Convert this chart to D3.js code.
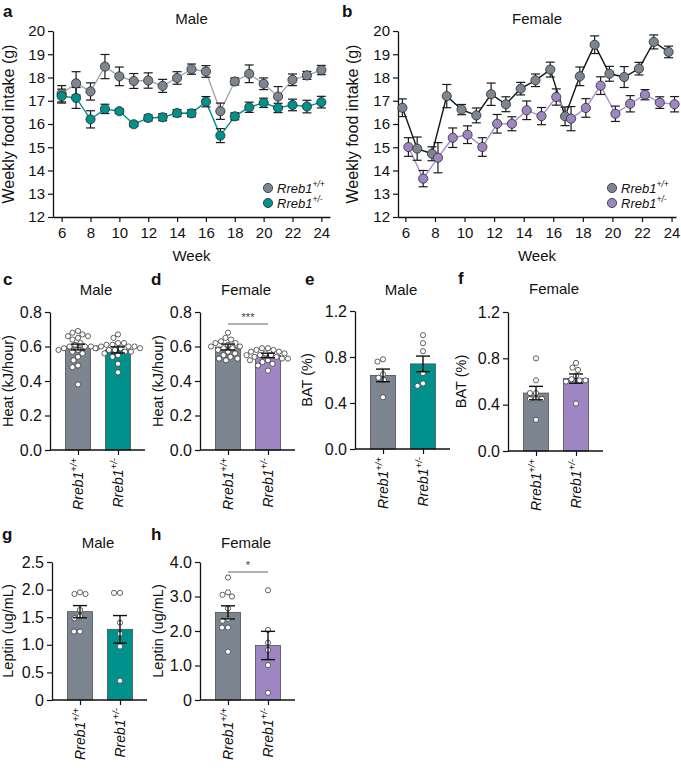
<!DOCTYPE html>
<html><head><meta charset="utf-8">
<script src="https://cdn.jsdelivr.net/npm/d3@7"></script>
<style>
body{margin:0;background:#fff;}
svg{font-family:"Liberation Sans",Arial,Helvetica,sans-serif;}
</style></head><body>
<svg id="chart" width="681" height="768"></svg>
<script>
// ---------- DATA ----------
const weeks = [6,7,8,9,10,11,12,13,14,15,16,17,18,19,20,21,22,23,24];
const weekTicks = [6,8,10,12,14,16,18,20,22,24];
const intakeTicks = [12,13,14,15,16,17,18,19,20];

const maleWT     = [17.30,17.75,17.40,18.47,18.05,17.85,17.87,17.64,17.98,18.36,18.26,16.55,17.83,18.16,17.73,17.18,17.90,18.09,18.32];
const maleWTsem  = [0.35,0.50,0.37,0.52,0.40,0.32,0.33,0.28,0.27,0.22,0.25,0.35,0.15,0.38,0.25,0.43,0.25,0.17,0.20];
const maleHet    = [17.20,17.12,16.20,16.65,16.55,15.99,16.26,16.29,16.47,16.46,16.96,15.50,16.33,16.72,16.91,16.69,16.82,16.75,16.94];
const maleHetSem = [0.30,0.45,0.37,0.20,0.10,0.10,0.13,0.15,0.15,0.15,0.22,0.30,0.15,0.22,0.20,0.20,0.25,0.27,0.25];

const femaleWT     = [16.70,14.94,14.72,17.20,16.62,16.37,17.28,16.85,17.52,17.88,18.34,16.33,18.05,19.41,18.16,18.02,18.38,19.53,19.10];
const femaleWTsem  = [0.38,0.50,0.30,0.50,0.22,0.32,0.48,0.32,0.27,0.27,0.32,0.40,0.40,0.38,0.32,0.45,0.27,0.30,0.25];
const femaleHet    = [15.01,13.65,14.55,15.41,15.54,15.01,16.01,16.01,16.59,16.34,17.16,16.23,16.69,17.65,16.44,16.87,17.26,16.92,16.85];
const femaleHetSem = [0.40,0.35,0.65,0.42,0.38,0.40,0.40,0.30,0.40,0.37,0.35,0.52,0.40,0.38,0.33,0.35,0.22,0.25,0.33];

const genotypes = ["+/+", "+/-"];

const heatMaleMean = [0.597, 0.580], heatMaleSem = [0.017, 0.018];
const heatMaleWT  = [0.69,0.68,0.67,0.66,0.66,0.65,0.64,0.62,0.61,0.60,0.60,0.60,0.59,0.59,0.58,0.58,0.57,0.56,0.54,0.52,0.49,0.48,0.38];
const heatMaleHet = [0.67,0.65,0.62,0.62,0.61,0.61,0.60,0.60,0.60,0.59,0.59,0.59,0.58,0.58,0.57,0.57,0.56,0.55,0.54,0.50,0.45];
const heatFemaleMean = [0.597, 0.548], heatFemaleSem = [0.017, 0.013];
const heatFemaleWT  = [0.68,0.65,0.64,0.63,0.62,0.62,0.61,0.60,0.60,0.59,0.59,0.58,0.57,0.56,0.55,0.54,0.53,0.53,0.52];
const heatFemaleHet = [0.59,0.59,0.58,0.58,0.57,0.57,0.56,0.56,0.55,0.55,0.55,0.54,0.54,0.53,0.53,0.52,0.52,0.51,0.50,0.49,0.46];
const heatTicks = [0,0.2,0.4,0.6,0.8], heatTickLabels = ["0.0","0.2","0.4","0.6","0.8"];

const batMaleMean = [0.640, 0.740], batMaleSem = [0.055, 0.068];
const batMaleWT  = [0.78,0.76,0.65,0.62,0.60,0.45];
const batMaleHet = [0.99,0.92,0.85,0.66,0.57,0.55];
const batFemaleMean = [0.500, 0.625], batFemaleSem = [0.058, 0.040];
const batFemaleWT  = [0.80,0.61,0.50,0.50,0.45,0.45,0.45,0.27];
const batFemaleHet = [0.76,0.72,0.70,0.65,0.62,0.61,0.61,0.60,0.41];
const batTicks = [0,0.4,0.8,1.2], batTickLabels = ["0.0","0.4","0.8","1.2"];

const leptinMaleMean = [1.60, 1.28], leptinMaleSem = [0.11, 0.25];
const leptinMaleWT  = [1.95,1.92,1.92,1.63,1.52,1.48,1.24,1.24];
const leptinMaleHet = [1.94,1.94,1.40,1.20,0.97,0.35];
const leptinMaleTicks = [0,0.5,1,1.5,2,2.5], leptinMaleTickLabels = ["0","0.5","1.0","1.5","2.0","2.5"];
const leptinFemaleMean = [2.54, 1.58], leptinFemaleSem = [0.19, 0.41];
const leptinFemaleWT  = [3.55,3.12,3.05,3.00,2.65,2.35,2.30,2.10,2.10,1.40];
const leptinFemaleHet = [3.18,2.03,1.66,1.45,1.01,0.21];
const leptinFemaleTicks = [0,1,2,3,4], leptinFemaleTickLabels = ["0","1.0","2.0","3.0","4.0"];

// ---------- STYLE ----------
const cGray = "#7d8591", cTeal = "#00918c", cPurple = "#9d86c2";
const svg = d3.select("#chart");

function styleAxis(g){
  g.selectAll("path.domain").attr("stroke","#111").attr("stroke-width",1.3);
  g.selectAll(".tick line").attr("stroke","#111").attr("stroke-width",1.2);
  g.selectAll(".tick text").attr("fill","#111").attr("font-family","Liberation Sans, Arial, sans-serif");
}
function label(x,y,t,opt={}){
  const el = svg.append("text").attr("x",x).attr("y",y).text(t)
    .attr("font-size",opt.size||15).attr("fill","#111")
    .attr("text-anchor",opt.anchor||"middle");
  if(opt.bold) el.attr("font-weight","bold");
  return el;
}
function yTitle(x,y,t,size){
  svg.append("text").attr("transform",`translate(${x},${y}) rotate(-90)`)
    .attr("text-anchor","middle").attr("font-size",size).attr("fill","#111").text(t);
}
function genoText(sel, sup, mainSize, supSize){
  sel.append("tspan").text("Rreb1");
  sel.append("tspan").attr("font-size",supSize).attr("dy",-mainSize*0.4).text(sup);
}

// ---------- LINE PANELS ----------
function linePanel(o){
  const x = d3.scaleLinear().domain(o.xdom).range([o.x0,o.x1]);
  const y = d3.scaleLinear().domain([12,20]).range([o.y0,o.y1]);
  const gx = svg.append("g").attr("transform",`translate(0,${o.y0})`)
    .call(d3.axisBottom(x).tickValues(weekTicks).tickSize(5).tickPadding(5).tickSizeOuter(0));
  gx.selectAll("text").attr("font-size",15);
  styleAxis(gx);
  const gy = svg.append("g").attr("transform",`translate(${o.x0},0)`)
    .call(d3.axisLeft(y).tickValues(intakeTicks).tickSize(5).tickPadding(3).tickSizeOuter(0));
  gy.selectAll("text").attr("font-size",15);
  styleAxis(gy);

  o.series.forEach(s=>{
    const pts = weeks.map((w,i)=>({x:x(w)+s.dodge, m:s.mean[i], e:s.sem[i]}));
    svg.append("path").datum(pts)
      .attr("d", d3.line().x(d=>d.x).y(d=>y(d.m)))
      .attr("fill","none").attr("stroke",s.line).attr("stroke-width",1.4);
    s.pts = pts;
  });
  o.series.forEach(s=>{
    const g = svg.append("g").attr("stroke","#1a1a1a").attr("stroke-width",1.2);
    s.pts.forEach(d=>{
      g.append("line").attr("x1",d.x).attr("x2",d.x).attr("y1",y(d.m-d.e)).attr("y2",y(d.m+d.e));
      g.append("line").attr("x1",d.x-4.5).attr("x2",d.x+4.5).attr("y1",y(d.m-d.e)).attr("y2",y(d.m-d.e));
      g.append("line").attr("x1",d.x-4.5).attr("x2",d.x+4.5).attr("y1",y(d.m+d.e)).attr("y2",y(d.m+d.e));
    });
  });
  o.series.forEach(s=>{
    svg.append("g").selectAll("circle").data(s.pts).join("circle")
      .attr("cx",d=>d.x).attr("cy",d=>y(d.m)).attr("r",4.6)
      .attr("fill",s.fill).attr("stroke","#2a2a2a").attr("stroke-width",0.8);
  });
  // legend
  o.series.forEach((s,i)=>{
    const ly = o.legY + i*15;
    svg.append("circle").attr("cx",o.legX).attr("cy",ly).attr("r",4.6)
      .attr("fill",s.fill).attr("stroke","#2a2a2a").attr("stroke-width",0.8);
    const t = svg.append("text").attr("x",o.legX+9).attr("y",ly+4.5)
      .attr("font-size",13).attr("font-style","italic").attr("fill","#111");
    genoText(t, genotypes[i], 13, 8.5);
  });
  label((o.x0+o.x1)/2, 261, "Week", {size:15});
  label((o.x0+o.x1)/2, 24, o.title, {size:15});
  yTitle(o.titleX, (o.y0+o.y1)/2, "Weekly food intake (g)", 16);
  label(o.letterX, 17, o.letter, {size:17, bold:true, anchor:"start"});
}

linePanel({x0:53, x1:330, xdom:[5.4,24.6], y0:217, y1:31, title:"Male", letter:"a", letterX:3, titleX:14,
  legX:268, legY:188,
  series:[{mean:maleWT, sem:maleWTsem, fill:cGray, line:"#a4a8af", dodge:0},
          {mean:maleHet, sem:maleHetSem, fill:cTeal, line:cTeal, dodge:0}]});
linePanel({x0:398, x1:676, xdom:[5.5,24.3], y0:217, y1:31, title:"Female", letter:"b", letterX:342, titleX:358,
  legX:612, legY:188,
  series:[{mean:femaleWT, sem:femaleWTsem, fill:cGray, line:"#161616", dodge:-3},
          {mean:femaleHet, sem:femaleHetSem, fill:cPurple, line:"#a890cc", dodge:3}]});

// ---------- BAR PANELS ----------
function swarm(values, y, r){
  const placed = [];
  const pts = values.map(v=>({v, y:y(v)})).sort((a,b)=>a.y-b.y);
  for(const p of pts){
    let off = 0;
    for(let k=0;k<400;k++){
      const c = (k%2===0?1:-1)*Math.ceil(k/2)*0.5;
      if(placed.every(q=>Math.hypot(q.dx-c,q.y-p.y) >= 2*r+0.4)){off=c;break;}
    }
    p.dx = off; placed.push(p);
  }
  return placed;
}

function barPanel(o){
  const y = d3.scaleLinear().domain([0,o.ticks[o.ticks.length-1]]).range([o.y0,o.y1]);
  const x = d3.scalePoint().domain(genotypes).range([o.x0+28,o.x0+68]);
  const bw = 25, dr = 2.6;
  const fills = [cGray, o.color];
  genotypes.forEach((gname,i)=>{
    svg.append("rect").attr("x",x(gname)-bw/2).attr("y",y(o.mean[i]))
      .attr("width",bw).attr("height",o.y0-y(o.mean[i]))
      .attr("fill",fills[i]).attr("stroke","#4a4f56").attr("stroke-width",0.8);
  });
  [o.wt,o.het].forEach((vals,i)=>{
    const pts = swarm(vals,y,dr);
    svg.append("g").selectAll("circle").data(pts).join("circle")
      .attr("cx",d=>x(genotypes[i])+d.dx).attr("cy",d=>d.y).attr("r",dr)
      .attr("fill","#fff").attr("stroke","#3a3a3a").attr("stroke-width",0.8);
  });
  genotypes.forEach((gname,i)=>{
    const cx = x(gname), lo = y(o.mean[i]-o.sem[i]), hi = y(o.mean[i]+o.sem[i]);
    const g = svg.append("g").attr("stroke","#111").attr("stroke-width",1.4);
    g.append("line").attr("x1",cx).attr("x2",cx).attr("y1",lo).attr("y2",hi);
    g.append("line").attr("x1",cx-7).attr("x2",cx+7).attr("y1",lo).attr("y2",lo);
    g.append("line").attr("x1",cx-7).attr("x2",cx+7).attr("y1",hi).attr("y2",hi);
  });
  const gy = svg.append("g").attr("transform",`translate(${o.x0},0)`)
    .call(d3.axisLeft(y).tickValues(o.ticks).tickSize(5).tickPadding(3).tickSizeOuter(0)
      .tickFormat((d,i)=>o.tickLabels[i]));
  gy.selectAll("text").attr("font-size",16);
  styleAxis(gy);
  const gx = svg.append("g").attr("transform",`translate(0,${o.y0})`)
    .call(d3.axisBottom(x).tickSize(5).tickFormat(""));
  gx.select("path.domain").remove();
  styleAxis(gx);
  svg.append("line").attr("x1",o.x0).attr("x2",o.x0+95).attr("y1",o.y0).attr("y2",o.y0)
    .attr("stroke","#111").attr("stroke-width",1.3);
  genotypes.forEach(gname=>{
    const t = svg.append("text")
      .attr("transform",`translate(${x(gname)},${o.y0+8}) rotate(-90)`)
      .attr("dy","0.36em").attr("text-anchor","end")
      .attr("font-size",14).attr("font-style","italic").attr("fill","#111");
    genoText(t, gname, 14, 9.5);
  });
  if(o.sig){
    svg.append("line").attr("x1",x(genotypes[0])).attr("x2",x(genotypes[1]))
      .attr("y1",o.sigY).attr("y2",o.sigY).attr("stroke","#666").attr("stroke-width",1);
    svg.append("text").attr("x",(x(genotypes[0])+x(genotypes[1]))/2).attr("y",o.sigY-3)
      .attr("text-anchor","middle").attr("font-size",11).attr("fill","#444").text(o.sig);
  }
  label(o.x0+46, o.titleY, o.title, {size:15});
  yTitle(o.x0-o.titleOff, (o.y0+o.y1)/2, o.ytitle, 14.5);
  label(o.letterX, o.letterY, o.letter, {size:17, bold:true, anchor:"start"});
}

barPanel({x0:50, y0:450, y1:312, ticks:heatTicks, tickLabels:heatTickLabels, mean:heatMaleMean, sem:heatMaleSem,
  wt:heatMaleWT, het:heatMaleHet, color:cTeal, title:"Male", titleY:295, ytitle:"Heat (kJ/hour)", titleOff:37, letter:"c", letterX:3, letterY:285});
barPanel({x0:200, y0:450, y1:312, ticks:heatTicks, tickLabels:heatTickLabels, mean:heatFemaleMean, sem:heatFemaleSem,
  wt:heatFemaleWT, het:heatFemaleHet, color:cPurple, title:"Female", titleY:295, ytitle:"Heat (kJ/hour)", titleOff:37, letter:"d", letterX:151, letterY:285,
  sig:"***", sigY:324});
barPanel({x0:355, y0:449, y1:311, ticks:batTicks, tickLabels:batTickLabels, mean:batMaleMean, sem:batMaleSem,
  wt:batMaleWT, het:batMaleHet, color:cTeal, title:"Male", titleY:295, ytitle:"BAT (%)", titleOff:43, letter:"e", letterX:305, letterY:285});
barPanel({x0:508, y0:451, y1:312, ticks:batTicks, tickLabels:batTickLabels, mean:batFemaleMean, sem:batFemaleSem,
  wt:batFemaleWT, het:batFemaleHet, color:cPurple, title:"Female", titleY:294, ytitle:"BAT (%)", titleOff:42, letter:"f", letterX:458, letterY:284});
barPanel({x0:52, y0:700, y1:562, ticks:leptinMaleTicks, tickLabels:leptinMaleTickLabels, mean:leptinMaleMean, sem:leptinMaleSem,
  wt:leptinMaleWT, het:leptinMaleHet, color:cTeal, title:"Male", titleY:548, ytitle:"Leptin (ug/mL)", titleOff:39, letter:"g", letterX:2, letterY:540});
barPanel({x0:200, y0:700, y1:562, ticks:leptinFemaleTicks, tickLabels:leptinFemaleTickLabels, mean:leptinFemaleMean, sem:leptinFemaleSem,
  wt:leptinFemaleWT, het:leptinFemaleHet, color:cPurple, title:"Female", titleY:548, ytitle:"Leptin (ug/mL)", titleOff:37, letter:"h", letterX:151, letterY:540,
  sig:"*", sigY:572});
</script>
</body></html>
